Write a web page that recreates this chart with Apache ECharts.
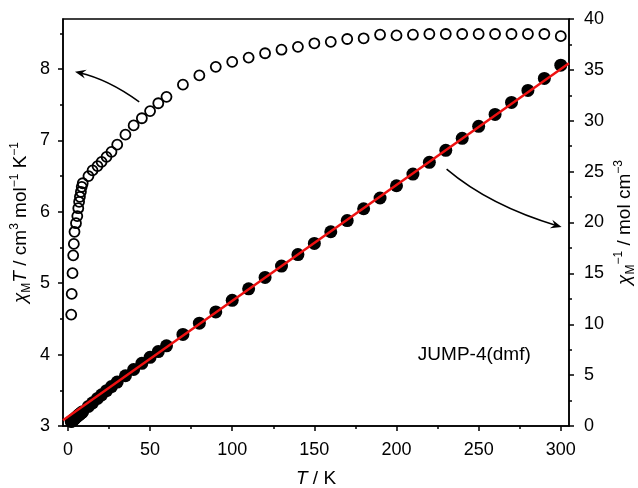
<!DOCTYPE html>
<html>
<head>
<meta charset="utf-8">
<title>JUMP-4(dmf)</title>
<script src="https://cdn.jsdelivr.net/npm/echarts@6/dist/echarts.min.js"></script>
</head>
<body style="margin:0">
<div id="main" style="width:638px;height:488px;"></div>
<script>
// temperatures (K)
var temps = [2, 2.3, 2.8, 3.2, 3.6, 4, 4.9, 5.7, 6.3, 6.8, 7.3, 7.9, 8.4, 9,
  12.5, 15, 18, 20.5, 23.5, 26.5, 30, 35, 40, 45, 50, 55, 60,
  70, 80, 90, 100, 110, 120, 130, 140, 150, 160, 170, 180, 190, 200,
  210, 220, 230, 240, 250, 260, 270, 280, 290, 300];
// chiM*T (cm3 mol-1 K-1), open circles, left axis
var chiT = [4.56, 4.85, 5.14, 5.39, 5.55, 5.72, 5.84, 5.94, 6.05, 6.14, 6.21, 6.28, 6.35, 6.40,
  6.50, 6.58, 6.64, 6.70, 6.77, 6.84, 6.94, 7.08, 7.21, 7.31, 7.41, 7.52, 7.61,
  7.78, 7.91, 8.03, 8.10, 8.16, 8.22, 8.27, 8.31, 8.36, 8.38, 8.42, 8.43, 8.48, 8.47,
  8.48, 8.49, 8.49, 8.49, 8.49, 8.49, 8.49, 8.49, 8.49, 8.46];
// 1/chiM (mol cm-3), filled circles, right axis
var chiInv = [0.44, 0.47, 0.54, 0.59, 0.65, 0.70, 0.84, 0.96, 1.04, 1.11, 1.18, 1.26, 1.32, 1.41,
  1.92, 2.28, 2.71, 3.06, 3.47, 3.87, 4.32, 4.94, 5.55, 6.16, 6.75, 7.31, 7.88,
  9.00, 10.11, 11.21, 12.35, 13.48, 14.60, 15.72, 16.85, 17.94, 19.09, 20.19, 21.35, 22.41, 23.61,
  24.76, 25.91, 27.09, 28.27, 29.45, 30.62, 31.80, 32.98, 34.16, 35.46];
// Curie-Weiss fit line end points
var fitT = [-3, 305];
var fitInv = [0.57, 35.65];

var xTicks = [0, 50, 100, 150, 200, 250, 300];
var xMinor = [25, 75, 125, 175, 225, 275];
var yTicks = [3, 4, 5, 6, 7, 8];
var yMinor = [3.5, 4.5, 5.5, 6.5, 7.5, 8.5];
var rTicks = [0, 5, 10, 15, 20, 25, 30, 35, 40];
var rMinor = [2.5, 7.5, 12.5, 17.5, 22.5, 27.5, 32.5, 37.5];

var font = 'Liberation Sans, Arial, sans-serif';
var black = '#000';

var myChart = echarts.init(document.getElementById('main'));

function majorAxis(o) {
  return Object.assign({
    type: 'value',
    splitLine: { show: false },
    nameMoveOverlap: false,
    axisLine: { show: true, onZero: false, lineStyle: { color: black, width: 1.5 } },
    nameTextStyle: { fontSize: 18, color: black, fontFamily: font }
  }, o);
}
function minorAxis(o) {
  return Object.assign({
    type: 'value',
    splitLine: { show: false },
    axisLine: { show: false, onZero: false },
    axisLabel: { show: false }
  }, o);
}

var richName = {
  i: { fontSize: 19, fontStyle: 'italic', fontFamily: font, color: black, lineHeight: 24 },
  n: { fontSize: 19, fontFamily: font, color: black, lineHeight: 24 },
  sub: { fontSize: 12, fontFamily: font, color: black, lineHeight: 12, verticalAlign: 'bottom' },
  sup: { fontSize: 12, fontFamily: font, color: black, lineHeight: 12, verticalAlign: 'top' }
};

option = {
  animation: false,
  backgroundColor: '#fff',
  grid: {
    left: 63, right: 69, top: 19, bottom: 62,
    outerBoundsMode: 'none', containLabel: false,
    show: true, borderColor: black, borderWidth: 1.5
  },
  xAxis: [
    majorAxis({
      min: -3, max: 305, position: 'bottom',
      axisTick: { show: true, length: 5, customValues: xTicks, lineStyle: { color: black, width: 1.5 } },
      axisLabel: { fontSize: 18, color: black, fontFamily: font, margin: 15, customValues: xTicks },
      name: '{i|T}{n| / K}', nameLocation: 'middle', nameGap: 41,
      nameTextStyle: { rich: richName }
    }),
    minorAxis({
      min: -3, max: 305, position: 'bottom',
      axisTick: { show: true, length: 3, customValues: xMinor, lineStyle: { color: black, width: 1.5 } }
    })
  ],
  yAxis: [
    majorAxis({
      min: 3, max: 8.7, position: 'left',
      axisTick: { show: true, length: 5, customValues: yTicks, lineStyle: { color: black, width: 1.5 } },
      axisLabel: { fontSize: 18, color: black, fontFamily: font, margin: 13, customValues: yTicks },
      name: '{i|χ}{sub|M}{i|T}{n| / cm}{sup|3}{n| mol}{sup|−1}{n| K}{sup|−1}',
      nameLocation: 'middle', nameRotate: 90, nameGap: 30,
      nameTextStyle: { rich: richName }
    }),
    majorAxis({
      min: 0, max: 40, position: 'right',
      axisTick: { show: true, length: 5, customValues: rTicks, lineStyle: { color: black, width: 1.5 } },
      axisLabel: { fontSize: 18, color: black, fontFamily: font, margin: 15, customValues: rTicks },
      name: '{i|χ}{sub|M}{sup|−1}{n| / mol cm}{sup|−3}',
      nameLocation: 'middle', nameRotate: 90, nameGap: 44,
      nameTextStyle: { rich: richName }
    }),
    minorAxis({
      min: 3, max: 8.7, position: 'left',
      axisTick: { show: true, length: 3, customValues: yMinor, lineStyle: { color: black, width: 1.5 } }
    }),
    minorAxis({
      min: 0, max: 40, position: 'right',
      axisTick: { show: true, length: 3, customValues: rMinor, lineStyle: { color: black, width: 1.5 } }
    })
  ],
  series: [
    {
      name: 'chiT',
      type: 'scatter',
      xAxisIndex: 0, yAxisIndex: 0,
      symbol: 'circle', symbolSize: 10,
      itemStyle: { color: 'rgba(255,255,255,0)', borderColor: black, borderWidth: 1.8, opacity: 1 },
      data: temps.map(function (t, i) { return [t, chiT[i]]; })
    },
    {
      name: 'chiInv',
      type: 'scatter',
      xAxisIndex: 0, yAxisIndex: 1,
      symbol: 'circle', symbolSize: 13,
      itemStyle: { color: black, opacity: 1 },
      data: temps.map(function (t, i) { return [t, chiInv[i]]; })
    },
    {
      name: 'fit',
      type: 'line',
      xAxisIndex: 0, yAxisIndex: 1,
      symbol: 'none',
      lineStyle: { color: '#ee1111', width: 2.5 },
      z: 5,
      data: fitT.map(function (t, i) { return [t, fitInv[i]]; })
    }
  ]
};
myChart.setOption(option);

// curved arrows and the sample label, placed in data coordinates
function px(axis, p) {
  return myChart.convertToPixel({ xAxisIndex: 0, yAxisIndex: axis }, p);
}
function arrow(tail, ctrl, tip) {
  var a = Math.atan2(tip[1] - ctrl[1], tip[0] - ctrl[0]);
  var c = Math.cos(a), s = Math.sin(a), L = 11, W = 4.5;
  return [
    {
      type: 'bezierCurve', z: 10,
      shape: { x1: tail[0], y1: tail[1], cpx1: ctrl[0], cpy1: ctrl[1], x2: tip[0] - 4 * c, y2: tip[1] - 4 * s },
      style: { stroke: black, lineWidth: 1.5, fill: null }
    },
    {
      type: 'polygon', z: 10,
      shape: { points: [
        tip,
        [tip[0] - L * c - W * s, tip[1] - L * s + W * c],
        [tip[0] - 0.65 * L * c, tip[1] - 0.65 * L * s],
        [tip[0] - L * c + W * s, tip[1] - L * s - W * c]
      ] },
      style: { fill: black }
    }
  ];
}
var g = [];
g = g.concat(arrow(px(0, [43.4, 7.54]), px(0, [24.3, 7.86]), px(0, [4.3, 7.96])));
g = g.concat(arrow(px(1, [230.5, 25.24]), px(1, [256.8, 21.64]), px(1, [300.5, 19.55])));
var lab = px(1, [213, 7.0]);
g.push({
  type: 'text', z: 10, x: lab[0], y: lab[1],
  style: { text: 'JUMP-4(dmf)', fontSize: 19, fontFamily: font, fill: black, verticalAlign: 'middle', align: 'left' }
});
myChart.setOption({ graphic: g });
</script>
</body>
</html>
